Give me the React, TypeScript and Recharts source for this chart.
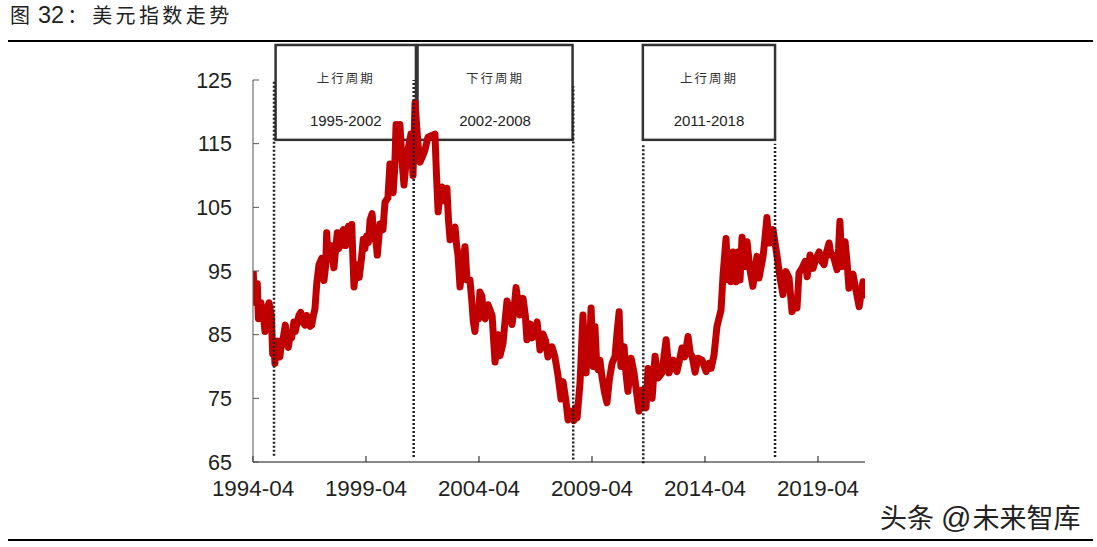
import React from 'react';
import { LineChart, Line, XAxis, YAxis, ReferenceLine, ReferenceArea } from 'recharts';

type P = [number, number];
const upTo1997: P[] = [[1994.26,95],[1994.3,91],[1994.34,92],[1994.38,90],[1994.44,93],[1994.49,87.5],[1994.55,90],[1994.6,90],[1994.66,87.5],[1994.71,88],[1994.78,85.5],[1994.82,88],[1994.85,89],[1994.96,90],[1995.06,88],[1995.1,84],[1995.12,82],[1995.18,84],[1995.22,80.5],[1995.28,83.5],[1995.33,84],[1995.44,81.5],[1995.52,84],[1995.59,84.5],[1995.68,86.5],[1995.74,84],[1995.81,83],[1995.9,85],[1995.96,84.5],[1996.06,87],[1996.12,85.5],[1996.18,86.5],[1996.28,88],[1996.36,88.5],[1996.45,87],[1996.55,86.5],[1996.62,88],[1996.7,87.5],[1996.78,86.3],[1996.85,86.5],[1996.92,88],[1996.99,89]];
const upTo2002: P[] = [[1997.07,93],[1997.12,94.5],[1997.17,96],[1997.29,97],[1997.34,95],[1997.39,93.5],[1997.47,96],[1997.51,101],[1997.56,98],[1997.61,97],[1997.69,99],[1997.76,97],[1997.83,95.5],[1997.92,99],[1997.98,101],[1998.04,98.5],[1998.1,99],[1998.18,101],[1998.25,101.5],[1998.3,99],[1998.35,99],[1998.42,101.5],[1998.47,102],[1998.55,100],[1998.62,102.3],[1998.67,97],[1998.72,92.5],[1998.78,95],[1998.84,96],[1998.95,94],[1999.05,97],[1999.13,100],[1999.2,98.5],[1999.28,100.5],[1999.36,99.5],[1999.43,103],[1999.52,104],[1999.6,100],[1999.67,100.5],[1999.75,97.5],[1999.87,102.4],[2000.0,101.5],[2000.09,105.8],[2000.22,106.5],[2000.31,111.8],[2000.38,108],[2000.45,107.3],[2000.52,111],[2000.58,118],[2000.66,114],[2000.75,118],[2000.85,112],[2000.93,108.5],[2001.05,113],[2001.24,116.5],[2001.33,110],[2001.42,121.4],[2001.55,115],[2001.64,112.1],[2001.75,113],[2001.86,114],[2001.99,116]];
const upTo2008: P[] = [[2002.3,116.5],[2002.37,110],[2002.44,104.3],[2002.52,107],[2002.61,108.2],[2002.72,106],[2002.83,108],[2002.9,103],[2002.97,99.9],[2003.08,101],[2003.19,101.9],[2003.26,99],[2003.32,97.5],[2003.41,92.5],[2003.52,96],[2003.63,98.8],[2003.72,93.6],[2003.85,93.6],[2003.94,90],[2004.0,87],[2004.07,85.5],[2004.12,87.5],[2004.16,89],[2004.23,87.5],[2004.29,91.7],[2004.38,91],[2004.45,88],[2004.52,87.5],[2004.65,89.7],[2004.83,88],[2004.9,84],[2004.96,80.7],[2005.03,83],[2005.09,85],[2005.18,81.7],[2005.31,83.6],[2005.4,87],[2005.49,90.3],[2005.6,89],[2005.71,86.6],[2005.8,89],[2005.89,92.4],[2005.98,90],[2006.06,88.1],[2006.2,90.7],[2006.3,88],[2006.37,84.2],[2006.51,86.7],[2006.6,84.5],[2006.72,85.5],[2006.82,87],[2006.88,85],[2006.95,82.6],[2007.08,85.1],[2007.2,84],[2007.3,81.5],[2007.48,83.1],[2007.61,81.5],[2007.75,78.5],[2007.88,74.9],[2007.97,77.6],[2008.1,74.5],[2008.19,71.6],[2008.32,73],[2008.45,71.5],[2008.52,73.5],[2008.59,71.9],[2008.72,77.4]];
const upTo2014: P[] = [[2008.85,88.1],[2008.92,81],[2008.99,79],[2009.06,86],[2009.12,80.5],[2009.21,89.2],[2009.3,80],[2009.38,86.3],[2009.45,81],[2009.52,79.5],[2009.6,81],[2009.69,78.4],[2009.8,76],[2009.91,74.3],[2010.02,78],[2010.14,80.5],[2010.27,81.6],[2010.35,85],[2010.45,88.6],[2010.53,80],[2010.67,83.1],[2010.75,79],[2010.84,76.1],[2010.98,81.3],[2011.11,79],[2011.22,76],[2011.33,73],[2011.46,76.3],[2011.64,73.5],[2011.73,79.7],[2011.91,75],[2012.04,81.6],[2012.17,78.2],[2012.35,79],[2012.45,82],[2012.53,84.2],[2012.66,79],[2012.84,81],[2013.01,79.2],[2013.12,81],[2013.23,82.9],[2013.35,81.5],[2013.5,84.7],[2013.6,82],[2013.68,81.6],[2013.81,79.1],[2013.94,81.3],[2014.12,81],[2014.3,79.2],[2014.42,80.5],[2014.52,79.7],[2014.65,81.8]];
const upTo2018: P[] = [[2014.78,86.3],[2014.96,88.9],[2015.05,94.4],[2015.18,100.1],[2015.27,93.6],[2015.33,97],[2015.4,93.3],[2015.49,98],[2015.56,95],[2015.62,93.3],[2015.71,98],[2015.8,93.6],[2015.89,100.3],[2016.02,95.7],[2016.11,99.6],[2016.24,95.2],[2016.37,92.6],[2016.46,95],[2016.55,97.3],[2016.64,93.9],[2016.82,97.3],[2016.9,100],[2016.99,103.4],[2017.06,100.5],[2017.12,99.4],[2017.26,101.5],[2017.44,97.3],[2017.57,94],[2017.7,91.3],[2017.83,94.9],[2017.97,93.9],[2018.1,88.6]];
const upTo2021: P[] = [[2018.2,89.5],[2018.32,89.2],[2018.41,94.7],[2018.55,95.5],[2018.68,96.5],[2018.77,94.1],[2018.9,97.5],[2019.03,95.4],[2019.17,97],[2019.3,98],[2019.42,96.5],[2019.52,96],[2019.63,98],[2019.74,99.4],[2019.83,97.5],[2019.92,97.5],[2020.09,95.2],[2020.16,98.5],[2020.22,102.8],[2020.31,95.7],[2020.45,99.6],[2020.54,96.2],[2020.62,92.3],[2020.8,94.5],[2020.93,92],[2021.07,89.4],[2021.16,91.5],[2021.24,93.3],[2021.33,90.7]];
const chartData = [...upTo1997, ...upTo2002, ...upTo2008, ...upTo2014, ...upTo2018, ...upTo2021].map(([year, value]) => ({ year, value }));

const yTicks = [65, 75, 85, 95, 105, 115, 125];
const xTicks = [1994.25, 1999.25, 2004.25, 2009.25, 2014.25, 2019.25];
const xTickLabels = ['1994-04', '1999-04', '2004-04', '2009-04', '2014-04', '2019-04'];

const dottedLines = [
  { x: 1995.18, low: 66, high: 125 },
  { x: 2001.36, low: 65.8, high: 125 },
  { x: 2008.42, low: 65.4, high: 124 },
  { x: 2011.52, low: 64.8, high: 115 },
  { x: 2017.35, low: 65.8, high: 115 },
];
const cycleBoxes = [
  { x1: 1995.25, x2: 2001.46, label: '上行周期', span: '1995-2002' },
  { x1: 2001.53, x2: 2008.39, label: '下行周期', span: '2002-2008' },
  { x1: 2011.5, x2: 2017.35, label: '上行周期', span: '2011-2018' },
];
const boxLow = 115.6;
const boxHigh = 130.5;

const FONT = '"Liberation Sans", Arial, sans-serif';
const CJK = '"Noto Sans CJK SC", sans-serif';

const makeBoxShape = (label: string, span: string) => (p: any) => {
  const cx = p.x + p.width / 2;
  return (
    <g>
      <rect x={p.x} y={p.y} width={p.width} height={p.height} fill="#fff" stroke="#333" strokeWidth={2.5} />
      <text x={cx} y={p.y + 33} textAnchor="middle" dominantBaseline="central" fontFamily={CJK} fontSize={12.5} letterSpacing={2} fill="#333">{label}</text>
      <text x={cx} y={p.y + 76} textAnchor="middle" dominantBaseline="central" fontFamily={FONT} fontSize={15} fill="#222">{span}</text>
    </g>
  );
};

export default function App() {
  return (
    <div style={{ position: 'absolute', left: 0, top: 0, width: 1097, height: 547, overflow: 'hidden', background: '#fff' }}>
      <div style={{ position: 'absolute', left: 10, top: -1, height: 32, lineHeight: '32px', fontSize: 20, fontFamily: CJK, color: '#222', whiteSpace: 'nowrap' }}>
        <span>图</span>
        <span style={{ fontFamily: FONT, fontSize: 23.5, marginLeft: 8 }}>32</span>
        <span style={{ marginLeft: 3 }}>：</span>
        <span style={{ letterSpacing: 3.4, marginLeft: 5 }}>美元指数走势</span>
      </div>
      <div style={{ position: 'absolute', left: 8, top: 39.5, width: 1085, height: 2, background: '#000' }} />
      <div style={{ position: 'absolute', left: 8, top: 539, width: 1085, height: 2, background: '#000' }} />
      <div style={{ position: 'absolute', left: 880, top: 500, lineHeight: '34px', fontSize: 27, fontFamily: CJK, color: '#222', whiteSpace: 'nowrap' }}>
        <span>头条</span>
        <span style={{ fontFamily: FONT, fontSize: 30, marginLeft: 7 }}>@</span>
        <span style={{ marginLeft: 1 }}>未来智库</span>
      </div>
      <div style={{ position: 'absolute', left: 0, top: 0 }}>
        <LineChart width={1097} height={547} data={chartData} margin={{ top: 80, right: 232, bottom: 0, left: 0 }}>
          <XAxis
            dataKey="year"
            type="number"
            domain={[1994.25, 2021.33]}
            ticks={xTicks}
            tickFormatter={(v: number) => xTickLabels[xTicks.indexOf(v)]}
            height={85}
            interval={0}
            allowDataOverflow
            tickSize={-6}
            tickMargin={24}
            stroke="#111"
            tick={{ fontFamily: FONT, fontSize: 22.4, fill: '#222' }}
          />
          <YAxis
            type="number"
            domain={[65, 125]}
            ticks={yTicks}
            interval={0}
            width={253}
            tickSize={-6}
            tickMargin={27}
            stroke="#555"
            tick={{ fontFamily: FONT, fontSize: 21.5, fill: '#222' }}
          />
          <Line dataKey="value" type="linear" stroke="#C00000" strokeWidth={7} dot={false} isAnimationActive={false} strokeLinejoin="round" />
          {dottedLines.map((d) => (
            <ReferenceLine key={d.x} segment={[{ x: d.x, y: d.low }, { x: d.x, y: d.high }]} stroke="#222" strokeWidth={2.5} strokeDasharray="2 2" ifOverflow="visible" />
          ))}
          {cycleBoxes.map((b) => (
            <ReferenceArea key={b.span} x1={b.x1} x2={b.x2} y1={boxLow} y2={boxHigh} ifOverflow="visible" shape={makeBoxShape(b.label, b.span)} />
          ))}
        </LineChart>
      </div>
    </div>
  );
}
